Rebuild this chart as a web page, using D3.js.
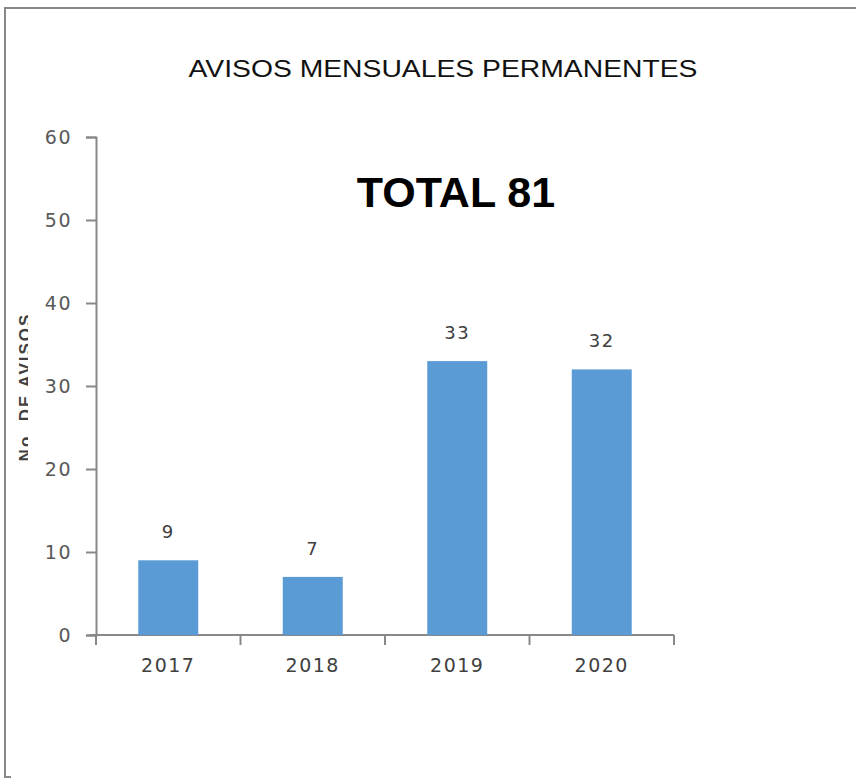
<!DOCTYPE html>
<html>
<head>
<meta charset="utf-8">
<script src="https://cdn.jsdelivr.net/npm/d3@7"></script>
<style>
  body { margin: 0; background: #fff; }
  svg { display: block; }
</style>
</head>
<body>
<div id="chart"></div>
<script>
var years = ["2017", "2018", "2019", "2020"];
var avisos = [9, 7, 33, 32];
var yTicks = [0, 10, 20, 30, 40, 50, 60];
var titulo = "AVISOS MENSUALES PERMANENTES";
var total = "TOTAL 81";
var yTitulo = "No. DE AVISOS";

var width = 856, height = 780;
var margin = { left: 96, right: 182, top: 137, bottom: 145 };
var numFont = "DejaVu Sans, sans-serif";

var svg = d3.select("#chart").append("svg")
    .attr("width", width)
    .attr("height", height);

// chart frame (cut off on the right)
svg.append("path")
    .attr("d", "M 900 8 L 5 8 L 5 777 L 11 777")
    .attr("fill", "none")
    .attr("stroke", "#888")
    .attr("stroke-width", 2);

var x = d3.scaleBand()
    .domain(years)
    .range([margin.left, width - margin.right])
    .paddingInner(0.585)
    .paddingOuter(0.2925);

var y = d3.scaleLinear()
    .domain([0, 60])
    .range([height - margin.bottom, margin.top]);

svg.append("text")
    .attr("x", 443)
    .attr("y", 77)
    .attr("text-anchor", "middle")
    .attr("textLength", 509)
    .attr("lengthAdjust", "spacingAndGlyphs")
    .style("font-family", "Liberation Sans Narrow, Liberation Sans, sans-serif")
    .style("font-size", "24px")
    .style("fill", "#111")
    .text(titulo);

svg.append("text")
    .attr("x", 456)
    .attr("y", 207)
    .attr("text-anchor", "middle")
    .style("font-family", "Liberation Sans, Arial, sans-serif")
    .style("font-weight", "bold")
    .style("font-size", "43px")
    .style("fill", "#000")
    .text(total);

// y axis
var yAxis = svg.append("g")
    .attr("transform", "translate(" + margin.left + ",0)")
    .call(d3.axisLeft(y).tickValues(yTicks).tickSize(10).tickPadding(14));

// x axis
var xAxis = svg.append("g")
    .attr("transform", "translate(0," + (height - margin.bottom) + ")")
    .call(d3.axisBottom(x).tickSize(0).tickPadding(24));

// boundary ticks between categories
var bounds = [margin.left].concat(years.map(function (d) { return x(d) + x.bandwidth() + x.step() * x.paddingOuter(); }));
svg.selectAll(".xsep")
    .data(bounds)
    .enter().append("line")
    .attr("class", "xsep")
    .attr("x1", function (d) { return d; })
    .attr("x2", function (d) { return d; })
    .attr("y1", height - margin.bottom)
    .attr("y2", height - margin.bottom + 10)
    .attr("stroke", "#888")
    .attr("stroke-width", 2);

[yAxis, xAxis].forEach(function (g) {
  g.selectAll("path, line").attr("stroke", "#888").attr("stroke-width", 2);
  g.selectAll("text")
    .style("font-family", numFont)
    .style("font-size", "19px")
    .style("letter-spacing", "1.5px")
    .style("fill", "#595959");
});
xAxis.select(".domain").attr("d", "M" + (margin.left - 6) + ",0H" + (width - margin.right));
xAxis.selectAll("text").style("fill", "#404040");

svg.selectAll(".bar")
    .data(avisos)
    .enter().append("rect")
    .attr("class", "bar")
    .attr("x", function (d, i) { return x(years[i]); })
    .attr("y", function (d) { return y(d); })
    .attr("width", x.bandwidth())
    .attr("height", function (d) { return y(0) - y(d); })
    .attr("fill", "#5b9bd5");

svg.selectAll(".lbl")
    .data(avisos)
    .enter().append("text")
    .attr("class", "lbl")
    .attr("x", function (d, i) { return x(years[i]) + x.bandwidth() / 2; })
    .attr("y", function (d) { return y(d) - 22; })
    .attr("text-anchor", "middle")
    .style("font-family", numFont)
    .style("font-size", "18px")
    .style("letter-spacing", "1.5px")
    .style("fill", "#404040")
    .text(function (d) { return d; });

// y axis title, partly cut as in the original
svg.append("clipPath").attr("id", "ycut")
    .append("rect").attr("x", 10).attr("y", 290).attr("width", 18).attr("height", 200);
svg.append("g")
    .attr("clip-path", "url(#ycut)")
    .append("text")
    .attr("transform", "translate(31,387) rotate(-90)")
    .attr("text-anchor", "middle")
    .style("font-family", "Liberation Sans, sans-serif")
    .style("font-weight", "bold")
    .style("font-size", "17px")
    .style("letter-spacing", "2px")
    .style("fill", "#404040")
    .text(yTitulo);
</script>
</body>
</html>
